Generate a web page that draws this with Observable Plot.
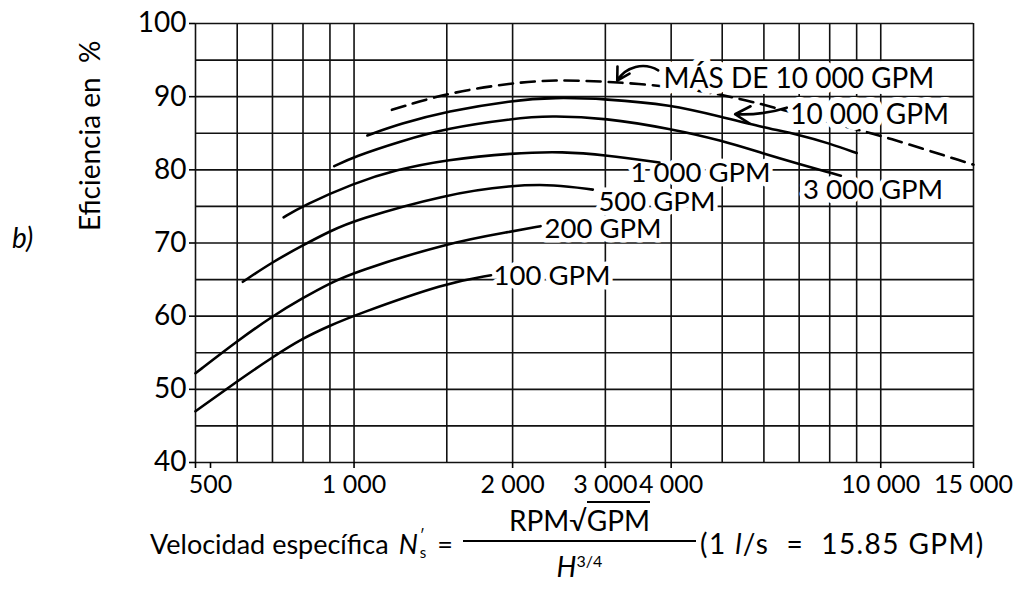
<!DOCTYPE html>
<html><head><meta charset="utf-8">
<script src="https://cdn.jsdelivr.net/npm/d3@7"></script>
<script src="https://cdn.jsdelivr.net/npm/@observablehq/plot@0.6"></script>
<style>
body{margin:0;background:#fff;font-family:Lato,"Open Sans",sans-serif;color:#000;}
#wrap{position:relative;width:1032px;height:595px;overflow:hidden;}
#side{position:absolute;left:12px;top:220px;font-size:28px;font-style:italic;}
#xlabel{position:absolute;left:150px;top:505px;font-size:27px;display:flex;align-items:center;white-space:nowrap;line-height:31px;}
.ns{display:inline-flex;align-items:center;margin:0 4px 0 10px;}
.ss{display:inline-flex;flex-direction:column;font-size:15px;line-height:17px;margin-left:2px;}
.frac{display:inline-flex;flex-direction:column;align-items:center;margin:0 4px 0 10px;}
.num{border-bottom:2px solid #000;padding:0 46px 4px;font-size:28px;}
.ov{border-top:2px solid #000;}
.den{padding-top:3px;font-size:28px;}
.den sup{font-size:16px;}
.tail{font-size:28px;letter-spacing:1.4px;}
</style></head><body>
<div id="wrap"><div id="chart"></div><div id="side">b)</div>
<div id="xlabel"><span>Velocidad específica</span><span class="ns"><i>N</i><span class="ss"><span>′</span><span>s</span></span></span><span>&nbsp;=</span><span class="frac"><span class="num">RPM√<span class="ov">GPM</span></span><span class="den"><i>H</i><sup>3/4</sup></span></span><span class="tail">(1 <i>l</i>/s &nbsp;= &nbsp;15.85 GPM)</span></div>
</div>
<script>
// Grid / tick values
const xGrid = [500,600,700,800,900,1000,1500,2000,3000,4000,5000,6000,7000,8000,9000,10000,15000];
const yGrid = [40,45,50,55,60,65,70,75,80,85,90,95,100];
const xTicks = [500,1000,2000,3000,4000,10000,15000];
const yTicks = [40,50,60,70,80,90,100];

// Efficiency curves [specific speed, efficiency %]
const gpm100 = [[500,47.0],[600,51.1],[700,54.4],[800,57.0],[900,58.7],[1000,60.1],[1500,64.6],[1820,65.6]];
const gpm200 = [[500,52.2],[600,56.6],[700,60.0],[800,62.5],[900,64.5],[1000,66.0],[1500,70.0],[2000,71.6],[2260,72.3]];
const gpm500 = [[615,64.7],[700,67.4],[800,69.7],[900,71.6],[1000,73.1],[1500,76.7],[2000,77.9],[2400,78.0],[2840,77.3]];
const gpm1000 = [[735,73.5],[800,75.1],[1000,78.2],[1200,80.0],[1500,81.4],[2000,82.3],[2500,82.5],[3000,82.0],[3800,81.0]];
const gpm3000 = [[917,80.5],[1000,81.8],[1224,83.9],[1500,85.7],[2000,87.0],[2350,87.4],[3000,87.1],[4000,85.6],[5000,84.0],[6000,82.2],[7000,80.8],[8000,79.6],[8400,79.2]];
const gpm10000 = [[1060,84.7],[1224,86.3],[1500,88.0],[2000,89.5],[2400,89.9],[3000,89.7],[4000,88.9],[5000,87.2],[6000,85.8],[7000,84.8],[8000,83.6],[9000,82.3]];
const gpmOver10000 = [[1180,88.2],[1500,90.5],[2000,91.9],[2400,92.3],[3000,92.1],[4000,91.4],[5000,90.3],[6000,88.9],[7000,87.6],[8000,86.5],[9000,85.5],[10000,84.7],[15000,80.7]];

// Curve labels [text, specific speed, efficiency]
const labelsUnder = [["100 GPM",1840,65.4],["200 GPM",2300,71.9],["500 GPM",2910,75.6],["1 000 GPM",3350,79.5],["3 000 GPM",7120,77.2]];
const labelsOver = [["MÁS DE 10 000 GPM",3870,92.4],["10 000 GPM",6730,87.5]];
// Arrows [x1,y1,x2,y2]
const arrowOver = [[3780,93.6,3160,92.2]];
const arrow10000 = [[6630,88.5,5290,87.6]];

const solid = [gpm100,gpm200,gpm500,gpm1000,gpm3000,gpm10000]
  .flatMap((s,i)=>s.map(([x,y])=>({x,y,s:i})));
const dashed = gpmOver10000.map(([x,y])=>({x,y}));
const fmt = d => d3.format(",")(d).replace(/,/g," ");
const font = "Lato, 'Open Sans', sans-serif";
const lab = {x:d=>d[1],y:d=>d[2],text:d=>d[0],textAnchor:"start",fontSize:27.5,fill:"#000",stroke:"#fff",strokeWidth:9,paintOrder:"stroke",strokeLinejoin:"round"};

const chart = Plot.plot({
  width:1032, height:500,
  marginLeft:195, marginRight:59, marginTop:23, marginBottom:38,
  style:{fontFamily:font, fontSize:"28px", color:"#000", background:"#fff"},
  x:{type:"log", domain:[500,15000]},
  y:{domain:[40,100]},
  marks:[
    Plot.ruleX(xGrid,{stroke:"#111",strokeWidth:1.6}),
    Plot.ruleY(yGrid,{stroke:"#111",strokeWidth:1.6}),
    Plot.axisX(xTicks.slice(0,1),{tickFormat:fmt,tickSize:6,tickPadding:7,label:null,strokeWidth:1.6,fontSize:25,dx:15}),
    Plot.axisX(xTicks.slice(0,1),{tickSize:6,strokeWidth:1.6,text:null,label:null}),
    Plot.axisX(xTicks.slice(1),{tickFormat:fmt,tickSize:6,tickPadding:7,label:null,strokeWidth:1.6,fontSize:25}),
    Plot.axisY(yTicks,{tickSize:6,tickPadding:3,label:null,strokeWidth:1.6,fontSize:28}),
    Plot.text(["Eficiencia en  %"],{text:d=>d,frameAnchor:"left",dx:-104,dy:-12,rotate:-90,fontSize:28}),
    Plot.text(labelsUnder,lab),
    Plot.line(solid,{x:"x",y:"y",z:"s",curve:"basis",stroke:"#000",strokeWidth:2.6}),
    Plot.line(dashed,{x:"x",y:"y",curve:"basis",stroke:"#000",strokeWidth:2.6,strokeDasharray:"14,8"}),
    Plot.text(labelsOver,{...lab,fontSize:28,strokeWidth:12}),
    Plot.arrow(arrowOver,{x1:d=>d[0],y1:d=>d[1],x2:d=>d[2],y2:d=>d[3],bend:-45,stroke:"#000",strokeWidth:2.6,headLength:12}),
    Plot.arrow(arrow10000,{x1:d=>d[0],y1:d=>d[1],x2:d=>d[2],y2:d=>d[3],bend:10,stroke:"#000",strokeWidth:2.6,headLength:12})
  ]
});
document.getElementById("chart").appendChild(chart);
</script>
</body></html>
